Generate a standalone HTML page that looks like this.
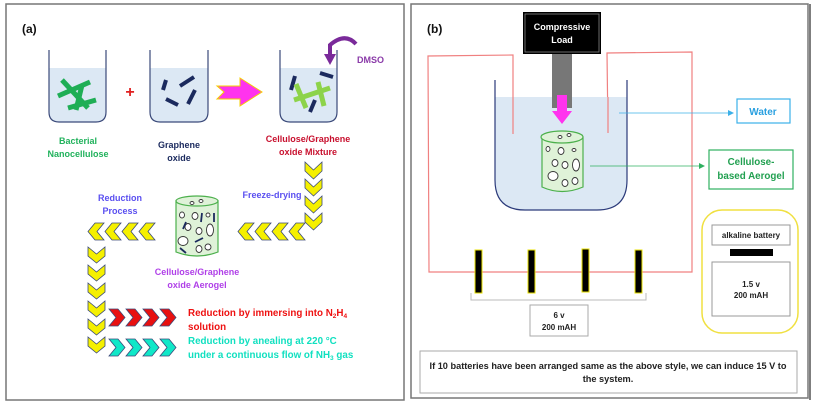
<!DOCTYPE html>
<html><head><meta charset="utf-8"><style>
html,body{margin:0;padding:0;background:#fff;}
svg{display:block;font-family:"Liberation Sans",sans-serif;font-weight:bold;}
</style></head><body>
<svg id="s" width="814" height="403" viewBox="0 0 814 403" xmlns="http://www.w3.org/2000/svg">
<rect x="0" y="0" width="814" height="403" fill="#fff"/>
<rect x="6" y="4" width="398" height="396" fill="none" stroke="#777" stroke-width="1.5"/>
<rect x="411" y="4" width="397" height="394" fill="none" stroke="#777" stroke-width="1.5"/>
<line x1="810" y1="4" x2="810" y2="400" stroke="#555" stroke-width="1.5"/>

<text x="22" y="33" font-size="12" fill="#111">(a)</text>
<g stroke="#3b4a7a" stroke-width="1.2">
<path d="M49,68 L106,68 L106,112 Q106,122 96,122 L59,122 Q49,122 49,112 Z" fill="#dce8f4" stroke="none"/>
<path d="M49,50 L49,112 Q49,122 59,122 L96,122 Q106,122 106,112 L106,50" fill="none"/>
<path d="M150,68 L208,68 L208,112 Q208,122 198,122 L160,122 Q150,122 150,112 Z" fill="#dce8f4" stroke="none"/>
<path d="M150,50 L150,112 Q150,122 160,122 L198,122 Q208,122 208,112 L208,50" fill="none"/>
<path d="M280,68 L337,68 L337,112 Q337,122 327,122 L290,122 Q280,122 280,112 Z" fill="#dce8f4" stroke="none"/>
<path d="M280,50 L280,112 Q280,122 290,122 L327,122 Q337,122 337,112 L337,50" fill="none"/>
</g>
<g stroke="#1fae55" stroke-width="5">
<line x1="62" y1="80" x2="88" y2="108"/><line x1="58" y1="96" x2="90" y2="82"/><line x1="68" y1="108" x2="96" y2="100"/><line x1="82" y1="85" x2="76" y2="110"/>
</g>
<g stroke="#1b2a5e" stroke-width="4">
<line x1="166" y1="80" x2="163" y2="90"/><line x1="180" y1="86" x2="194" y2="77"/><line x1="166" y1="99" x2="178" y2="105"/><line x1="195" y1="90" x2="188" y2="104"/>
<line x1="295" y1="76" x2="291" y2="90"/><line x1="320" y1="73" x2="333" y2="77"/><line x1="315" y1="100" x2="310" y2="112"/>
</g>
<g stroke="#8dd34a" stroke-width="5">
<line x1="296" y1="84" x2="306" y2="108"/><line x1="294" y1="100" x2="330" y2="88"/><line x1="318" y1="82" x2="324" y2="106"/>
</g>
<text x="130" y="97" font-size="16" fill="#e02020" text-anchor="middle">+</text>
<polygon points="217,86 240,86 240,78 262,92 240,106 240,99 217,99 224,92" fill="#ff33ee" stroke="#f5d000" stroke-width="1"/>
<path d="M356,44 Q345,32 330,45 L330,56" fill="none" stroke="#7a2a9a" stroke-width="4"/>
<polygon points="324,54 336,54 330,65" fill="#7a2a9a"/>
<text x="357" y="63" font-size="9" fill="#8a3aa8">DMSO</text>
<g font-size="9" text-anchor="middle">
<text x="78" y="144" fill="#21b25c">Bacterial</text><text x="78" y="157" fill="#21b25c">Nanocellulose</text>
<text x="179" y="148" fill="#1b2a5e">Graphene</text><text x="179" y="161" fill="#1b2a5e">oxide</text>
<text x="308" y="142" fill="#c8102e">Cellulose/Graphene</text><text x="308" y="155" fill="#c8102e">oxide Mixture</text>
<text x="272" y="198" fill="#5a4ff0">Freeze-drying</text>
<text x="120" y="201" fill="#5a4ff0">Reduction</text><text x="120" y="214" fill="#5a4ff0">Process</text>
<text x="197" y="275" fill="#b040e8">Cellulose/Graphene</text><text x="197" y="288" fill="#b040e8">oxide Aerogel</text>
</g>
<g font-size="9.8">
<text x="188" y="316" fill="#ee1111">Reduction by immersing into N<tspan font-size="6.5" dy="2">2</tspan><tspan dy="-2">H</tspan><tspan font-size="6.5" dy="2">4</tspan></text>
<text x="188" y="330" fill="#ee1111">solution</text>
<text x="188" y="344" fill="#11e0c0">Reduction by anealing at 220 °C</text>
<text x="188" y="358" fill="#11e0c0">under a continuous flow of NH<tspan font-size="6.5" dy="2">3</tspan><tspan dy="-2"> gas</tspan></text>
</g>
<g id="chev"></g>
<g stroke="#4cb04c" stroke-width="1.2" fill="#dff2d8">
<path d="M176,201 L176,252 Q197,260 218,252 L218,201 Z"/>
<ellipse cx="197" cy="201" rx="21" ry="5"/>
</g>
<g fill="#fff" stroke="#333" stroke-width="0.9">
<ellipse cx="192" cy="203" rx="2" ry="1.5"/><ellipse cx="201" cy="201" rx="2" ry="1.5"/>
<ellipse cx="182" cy="215" rx="2.5" ry="3"/><ellipse cx="195" cy="216" rx="3" ry="3.5"/><ellipse cx="208" cy="215" rx="2" ry="2"/>
<ellipse cx="188" cy="227" rx="3" ry="3.5"/><ellipse cx="199" cy="231" rx="3" ry="3.5"/><ellipse cx="210" cy="230" rx="3.5" ry="6"/>
<ellipse cx="183" cy="241" rx="5" ry="4.5"/><ellipse cx="199" cy="249" rx="3" ry="3.5"/><ellipse cx="208" cy="247" rx="3" ry="3"/>
</g>
<g stroke="#1b2a5e" stroke-width="1.8">
<line x1="186" y1="222" x2="183" y2="229"/><line x1="202" y1="213" x2="201" y2="222"/><line x1="214" y1="213" x2="214" y2="222"/>
<line x1="195" y1="242" x2="203" y2="238"/><line x1="180" y1="248" x2="186" y2="253"/>
</g>

<text x="427" y="33" font-size="12" fill="#111">(b)</text>
<path d="M513,134 L513,55 L428,56 L429,272 L692,272 L692,52 L607,53 L608,133" fill="none" stroke="#f08080" stroke-width="1.2"/>
<path d="M495,97 L627,97 L627,180 Q627,210 597,210 L525,210 Q495,210 495,180 Z" fill="#dce8f4"/>
<path d="M495,80 L495,180 Q495,210 525,210 L597,210 Q627,210 627,180 L627,80" fill="none" stroke="#2b3a7a" stroke-width="1.2"/>
<line x1="513" y1="97" x2="513" y2="134" stroke="#f08080" stroke-width="1.2"/>
<line x1="608" y1="97" x2="608" y2="133" stroke="#f08080" stroke-width="1.2"/>
<rect x="523" y="12" width="78" height="42" fill="#000"/>
<rect x="525" y="14" width="74" height="38" fill="none" stroke="#888" stroke-width="0.8"/>
<text x="562" y="30" font-size="9" fill="#fff" text-anchor="middle">Compressive</text>
<text x="562" y="43" font-size="9" fill="#fff" text-anchor="middle">Load</text>
<rect x="552" y="54" width="20" height="54" fill="#777"/>
<polygon points="557,95 567,95 567,111 572,111 562,124 552,111 557,111" fill="#ff33ee"/>
<g stroke="#4cb04c" stroke-width="1.2" fill="#dff2d8">
<path d="M542,137 L542,187 Q562,196 583,187 L583,137 Z"/>
<ellipse cx="562" cy="137" rx="21" ry="6"/>
</g>
<g fill="#fff" stroke="#333" stroke-width="0.9">
<ellipse cx="560" cy="137" rx="2" ry="1.5"/><ellipse cx="569" cy="135" rx="2" ry="1.5"/>
<ellipse cx="548" cy="149" rx="2" ry="2.5"/><ellipse cx="561" cy="151" rx="3" ry="3.5"/><ellipse cx="574" cy="150" rx="2" ry="1.5"/>
<ellipse cx="555" cy="163" rx="3" ry="3.5"/><ellipse cx="565" cy="165" rx="3" ry="3.5"/><ellipse cx="576" cy="165" rx="3.5" ry="6"/>
<ellipse cx="553" cy="176" rx="5" ry="4.5"/><ellipse cx="565" cy="183" rx="3" ry="3.5"/><ellipse cx="575" cy="181" rx="3" ry="3.5"/>
</g>
<line x1="619" y1="113" x2="730" y2="113" stroke="#3bb0e8" stroke-width="0.8"/>
<polygon points="728,110 734,113 728,116" fill="#3bb0e8"/>
<rect x="737" y="99" width="53" height="24" fill="#fff" stroke="#3bb0e8" stroke-width="1.2"/>
<text x="763" y="115" font-size="10" fill="#2aa0e0" text-anchor="middle">Water</text>
<line x1="590" y1="166" x2="700" y2="166" stroke="#2fb060" stroke-width="0.8"/>
<polygon points="699,163 705,166 699,169" fill="#2fb060"/>
<rect x="709" y="150" width="84" height="39" fill="#fff" stroke="#2fb060" stroke-width="1.2"/>
<text x="751" y="165" font-size="9.8" fill="#21a050" text-anchor="middle">Cellulose-</text>
<text x="751" y="179" font-size="9.8" fill="#21a050" text-anchor="middle">based Aerogel</text>
<g fill="#000" stroke="#e8e000" stroke-width="1">
<rect x="475" y="250" width="7" height="43"/><rect x="528" y="250" width="7" height="43"/>
<rect x="582" y="249" width="7" height="43"/><rect x="635" y="250" width="7" height="43"/>
</g>
<path d="M471,293 L471,300 L646,300 L646,293" fill="none" stroke="#bbb" stroke-width="1"/>
<rect x="530" y="305" width="58" height="31" fill="#fff" stroke="#aaa" stroke-width="1"/>
<text x="559" y="318" font-size="8" fill="#222" text-anchor="middle">6 v</text>
<text x="559" y="330" font-size="8" fill="#222" text-anchor="middle">200 mAH</text>
<rect x="702" y="210" width="96" height="123" rx="20" fill="#fff" stroke="#f0e040" stroke-width="1.5"/>
<rect x="712" y="225" width="78" height="20" fill="#fff" stroke="#999" stroke-width="1"/>
<text x="751" y="238" font-size="8" fill="#222" text-anchor="middle">alkaline battery</text>
<rect x="730" y="249" width="43" height="7" fill="#000"/>
<rect x="712" y="262" width="78" height="54" fill="#fff" stroke="#999" stroke-width="1"/>
<text x="751" y="287" font-size="8" fill="#222" text-anchor="middle">1.5 v</text>
<text x="751" y="298" font-size="8" fill="#222" text-anchor="middle">200 mAH</text>
<rect x="420" y="351" width="377" height="42" fill="#fff" stroke="#aaa" stroke-width="1"/>
<text x="608" y="369" font-size="9.2" fill="#222" text-anchor="middle">If 10 batteries have been arranged same as the above style, we can induce 15 V to</text>
<text x="608" y="382" font-size="9.2" fill="#222" text-anchor="middle">the system.</text>
</svg>
<script>
var g=document.getElementById('chev'),ns='http://www.w3.org/2000/svg';
function ch(x,y,w,h,t,dir,fill){
 var p;
 if(dir=='r')p=[[x,y],[x+t,y],[x+w,y+h/2],[x+t,y+h],[x,y+h],[x+w-t,y+h/2]];
 if(dir=='l')p=[[x+w,y],[x+w-t,y],[x,y+h/2],[x+w-t,y+h],[x+w,y+h],[x+t,y+h/2]];
 if(dir=='d')p=[[x,y],[x+w/2,y+h-t],[x+w,y],[x+w,y+t],[x+w/2,y+h],[x,y+t]];
 var e=document.createElementNS(ns,'polygon');
 e.setAttribute('points',p.map(function(a){return a.join(',')}).join(' '));
 e.setAttribute('fill',fill);e.setAttribute('stroke','#3b4a7a');e.setAttribute('stroke-width','0.8');
 g.appendChild(e);
}
var Y='#f5f000';
[162,179,196,213].forEach(function(y){ch(305,y,17,17,9,'d',Y)});
[238,255,272,289].forEach(function(x){ch(x,223,16,17,9,'l',Y)});
[88,105,122,139].forEach(function(x){ch(x,223,16,17,9,'l',Y)});
[247,265,283,301,319,337].forEach(function(y){ch(88,y,17,16,9,'d',Y)});
[109,126,143,160].forEach(function(x){ch(x,309,16,17,9,'r','#e81010')});
[109,126,143,160].forEach(function(x){ch(x,339,16,17,9,'r','#10e8c8')});
</script>
</body></html>
